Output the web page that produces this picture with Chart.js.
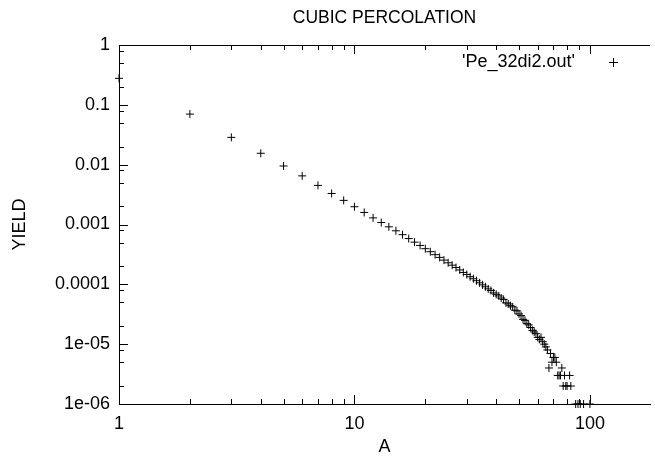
<!DOCTYPE html>
<html>
<head>
<meta charset="utf-8">
<script src="https://cdn.jsdelivr.net/npm/chart.js@4.4.1/dist/chart.umd.min.js"></script>
<style>
  html, body { margin: 0; padding: 0; background: #fff; }
  #wrap { width: 655px; height: 462px; }
</style>
</head>
<body>
<div id="wrap"><canvas id="chart" width="655" height="462"></canvas></div>
<script>
// cluster size A and yield
const sizes = [
  1, 2, 3, 4, 5, 6, 7, 8, 9, 10,
  11, 12, 13, 14, 15, 16, 17, 18, 19, 20,
  21, 22, 23, 24, 25, 26, 27, 28, 29, 30,
  31, 32, 33, 34, 35, 36, 37, 38, 39, 40,
  41, 42, 43, 44, 45, 46, 47, 48, 49, 50,
  51, 52, 53, 54, 55, 56, 57, 58, 59, 60,
  61, 62, 63, 64, 65, 66, 67, 68, 69, 70,
  71, 72, 73, 74, 75, 76, 77, 78, 79, 80,
  82, 83, 87, 89, 91, 94, 100
];
const yields = [
  0.277, 0.070, 0.0286, 0.0155, 0.0095, 0.0065, 0.0045, 0.0033, 0.00253, 0.00198,
  0.00159, 0.00129, 0.00108, 0.000915, 0.000785, 0.000676, 0.000582, 0.000507, 0.000447, 0.000394,
  0.000351, 0.000313, 0.000282, 0.000254, 0.000229, 0.000209, 0.000191, 0.000174, 0.000158, 0.000146,
  0.000134, 0.000124, 0.000115, 0.000106, 0.000098, 0.000091, 0.000084, 0.000079, 0.000072, 0.000068,
  0.000064, 0.000059, 0.000056, 0.000049, 0.000047, 0.000044, 0.000042, 0.000037, 0.000036, 0.000032,
  0.000030, 0.000026, 0.000025, 0.000022, 0.000021, 0.000019, 0.000017, 0.000016, 0.000015, 0.000013,
  0.000012, 0.000013, 0.000011, 0.000010, 0.000009, 0.000008, 0.000004, 0.000007, 0.000005, 0.000006,
  0.000006, 0.000005, 0.000003, 0.000003, 0.000003, 0.000004, 0.000002, 0.000003, 0.000002, 0.000002,
  0.000003, 0.000002, 0.000001, 0.000001, 0.000001, 0.000001, 0.000001
];

const xMajor = [1, 10, 100];
const xMajorLabels = ["1", "10", "100"];
const xMinor = [2, 3, 4, 5, 6, 7, 8, 9, 20, 30, 40, 50, 60, 70, 80, 90];
const yMajor = [1, 0.1, 0.01, 0.001, 0.0001, 0.00001, 0.000001];
const yMajorLabels = ["1", "0.1", "0.01", "0.001", "0.0001", "1e-05", "1e-06"];
const yMinor = [0.8, 0.5, 0.2, 0.08, 0.05, 0.02, 0.008, 0.005, 0.002, 0.0008, 0.0005, 0.0002,
  0.00008, 0.00005, 0.00002, 0.000008, 0.000005, 0.000002];

const FONT = "'Liberation Sans', Arial, Helvetica, sans-serif";

// gnuplot style inward tick marks, top border and the title over the plot box
const frame = {
  id: "frame",
  afterDraw(chart) {
    const ctx = chart.ctx;
    const a = chart.chartArea;
    const sx = chart.scales.x;
    const sy = chart.scales.y;
    const left = Math.round(a.left);
    const top = Math.round(a.top);
    const bottom = Math.round(a.bottom);
    ctx.save();
    ctx.fillStyle = "#000";
    ctx.fillRect(left, top, Math.round(a.right) - left, 1);
    const xt = (v, len) => {
      const px = Math.round(sx.getPixelForValue(v));
      ctx.fillRect(px, bottom - len, 1, len);
      ctx.fillRect(px, top, 1, len);
    };
    const yt = (v, len) => {
      const py = Math.round(sy.getPixelForValue(v));
      ctx.fillRect(left, py, len, 1);
    };
    xMajor.forEach((v) => xt(v, 9));
    xMinor.forEach((v) => xt(v, 5));
    yMajor.forEach((v) => yt(v, 9));
    yMinor.forEach((v) => yt(v, 5));

    ctx.font = "17.5px " + FONT;
    ctx.textAlign = "center";
    ctx.textBaseline = "middle";
    ctx.fillText("CUBIC PERCOLATION", (a.left + a.right) / 2, 18);
    ctx.restore();
  },
};

// key in the top right corner: label then a sample point
const keyBox = {
  id: "keyBox",
  afterDraw(chart) {
    const ctx = chart.ctx;
    const ds = chart.data.datasets[0];
    ctx.save();
    ctx.fillStyle = "#000";
    ctx.font = "18px " + FONT;
    ctx.textAlign = "right";
    ctx.textBaseline = "middle";
    ctx.fillText(ds.label, 575, 62);
    ctx.fillRect(609, 62, 9, 1);
    ctx.fillRect(613, 58, 1, 9);
    ctx.restore();
  },
};

const points = sizes.map((a, i) => ({ x: a, y: yields[i] }));

new Chart(document.getElementById("chart"), {
  type: "scatter",
  data: {
    datasets: [
      {
        label: "'Pe_32di2.out'",
        data: points,
        pointStyle: "cross",
        pointRadius: 4,
        pointHoverRadius: 4,
        borderColor: "#000",
        backgroundColor: "#000",
        borderWidth: 1,
        clip: false,
      },
    ],
  },
  options: {
    responsive: false,
    animation: false,
    events: [],
    layout: { padding: { left: 0, right: -5, top: 45, bottom: 0 } },
    plugins: {
      legend: { display: false },
      tooltip: { enabled: false },
      title: { display: false },
    },
    scales: {
      x: {
        type: "logarithmic",
        min: 1,
        max: 180,
        afterBuildTicks: (s) => {
          s.ticks = xMajor.map((v) => ({ value: v }));
        },
        afterFit: (s) => {
          s.height = 58;
          s.paddingLeft = 0;
          s.paddingRight = 0;
        },
        ticks: {
          autoSkip: false,
          maxRotation: 0,
          color: "#000",
          padding: 9,
          font: { family: FONT, size: 18 },
          callback: (v) => xMajorLabels[xMajor.indexOf(v)],
        },
        grid: { display: false, drawTicks: false },
        border: { display: true, color: "#000", width: 1 },
        title: {
          display: true,
          text: "A",
          color: "#000",
          font: { family: FONT, size: 18 },
          padding: { top: 0, bottom: 4 },
        },
      },
      y: {
        type: "logarithmic",
        min: 0.000001,
        max: 1,
        afterBuildTicks: (s) => {
          s.ticks = yMajor.map((v) => ({ value: v }));
        },
        afterFit: (s) => {
          s.width = 119;
        },
        ticks: {
          autoSkip: false,
          color: "#000",
          padding: 9,
          font: { family: FONT, size: 18 },
          callback: (v) => yMajorLabels[yMajor.findIndex((m) => Math.abs(m - v) < m * 1e-6)],
        },
        grid: { display: false, drawTicks: false },
        border: { display: true, color: "#000", width: 1 },
        title: {
          display: true,
          text: "YIELD",
          color: "#000",
          font: { family: FONT, size: 18 },
          padding: { top: 9, bottom: 0 },
        },
      },
    },
  },
  plugins: [frame, keyBox],
});
</script>
</body>
</html>
